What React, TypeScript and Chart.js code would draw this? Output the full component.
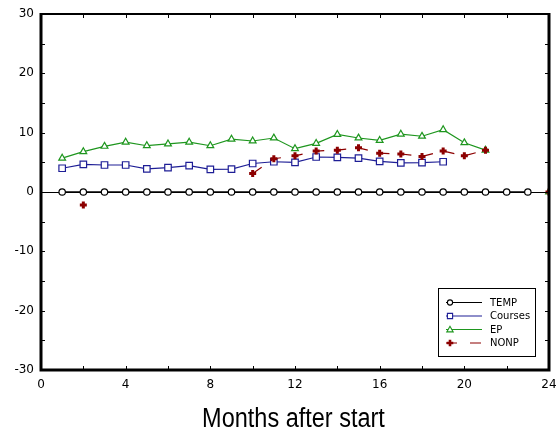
import { useEffect, useRef } from "react";
import { Chart, registerables } from "chart.js";

Chart.register(...registerables);

const months = [1, 2, 3, 4, 5, 6, 7, 8, 9, 10, 11, 12, 13, 14, 15, 16, 17, 18, 19, 20, 21, 22, 23, 24];
const tempValues = [0, 0, 0, 0, 0, 0, 0, 0, 0, 0, 0, 0, 0, 0, 0, 0, 0, 0, 0, 0, 0, 0, 0, null];
const coursesValues = [4.0, 4.65, 4.55, 4.55, 3.9, 4.1, 4.45, 3.8, 3.85, 4.8, 5.1, 5.0, 5.9, 5.85, 5.7, 5.15, 4.9, 4.95, 5.1, null, null, null, null, null];
const epValues = [5.7, 6.8, 7.7, 8.4, 7.8, 8.1, 8.4, 7.8, 8.9, 8.6, 9.1, 7.3, 8.2, 9.7, 9.1, 8.7, 9.75, 9.4, 10.5, 8.3, 7.05, null, null, 0];
const nonpValues = [null, -2.2, null, null, null, null, null, null, null, 3.1, 5.6, 6.1, 6.9, 7.05, 7.45, 6.55, 6.4, 6.0, 6.9, 6.1, 7.05, null, null, 0];
const seriesNames = ["TEMP", "Courses", "EP", "NONP"];
const xTitle = "Months after start";
const yMin = -30;
const yMax = 30;
const xMin = 0;
const xMax = 24;

const pts = (vals: (number | null)[]) => months.map((m, i) => ({ x: m, y: vals[i] }));

function drawMarker(ctx: CanvasRenderingContext2D, style: string, x: number, y: number, color: string) {
  ctx.save();
  ctx.strokeStyle = color;
  ctx.fillStyle = "#fff";
  ctx.lineWidth = 1.1;
  ctx.beginPath();
  if (style === "circle") {
    ctx.arc(x, y, 2.6, 0, Math.PI * 2);
    ctx.fill();
    ctx.stroke();
  } else if (style === "rect") {
    ctx.rect(x - 2.6, y - 2.6, 5.2, 5.2);
    ctx.fill();
    ctx.stroke();
  } else if (style === "triangle") {
    ctx.moveTo(x, y - 3.2);
    ctx.lineTo(x - 3.2, y + 2.4);
    ctx.lineTo(x + 3.2, y + 2.4);
    ctx.closePath();
    ctx.fill();
    ctx.stroke();
  } else {
    ctx.lineWidth = 2.6;
    ctx.moveTo(x - 3.3, y);
    ctx.lineTo(x + 3.3, y);
    ctx.moveTo(x, y - 3.3);
    ctx.lineTo(x, y + 3.3);
    ctx.stroke();
  }
  ctx.restore();
}

const framePlugin = {
  id: "frame",
  beforeDatasetsDraw(chart: any) {
    const { ctx, chartArea, scales } = chart;
    const y0 = scales.y.getPixelForValue(0);
    ctx.save();
    ctx.strokeStyle = "#000";
    ctx.lineWidth = 1;
    ctx.beginPath();
    ctx.moveTo(chartArea.left, Math.round(y0) + 0.5);
    ctx.lineTo(chartArea.right, Math.round(y0) + 0.5);
    ctx.stroke();
    ctx.restore();
  },
  afterDatasetsDraw(chart: any) {
    const { ctx, chartArea, scales } = chart;
    const { left, right, top, bottom } = chartArea;
    ctx.save();
    ctx.strokeStyle = "#000";
    ctx.lineWidth = 1;
    ctx.beginPath();
    for (let v = yMin + 5; v < yMax; v += 5) {
      const y = Math.round(scales.y.getPixelForValue(v)) + 0.5;
      ctx.moveTo(left, y);
      ctx.lineTo(left + 4, y);
      ctx.moveTo(right, y);
      ctx.lineTo(right - 4, y);
    }
    for (let v = xMin + 2; v < xMax; v += 2) {
      const x = Math.round(scales.x.getPixelForValue(v)) + 0.5;
      ctx.moveTo(x, top);
      ctx.lineTo(x, top + 4);
      ctx.moveTo(x, bottom);
      ctx.lineTo(x, bottom - 4);
    }
    ctx.stroke();
    ctx.lineWidth = 2;
    ctx.beginPath();
    ctx.moveTo(left, top);
    ctx.lineTo(right, top);
    ctx.stroke();
    ctx.lineWidth = 3;
    ctx.beginPath();
    ctx.moveTo(left, top - 1);
    ctx.lineTo(left, bottom);
    ctx.lineTo(right, bottom);
    ctx.lineTo(right, top - 1);
    ctx.stroke();
    ctx.restore();
  },
  afterDraw(chart: any) {
    const { ctx, chartArea } = chart;
    ctx.save();
    ctx.fillStyle = "#000";
    ctx.font = '27px "Liberation Sans", Arial, sans-serif';
    ctx.textAlign = "center";
    ctx.textBaseline = "alphabetic";
    const cx = (chartArea.left + chartArea.right) / 2 - 1.5;
    ctx.translate(cx, 426.5);
    ctx.scale(0.87, 1);
    ctx.fillText(xTitle, 0, 0);
    ctx.restore();

    const bx = 438.5, by = 288.5, bw = 97, bh = 68;
    ctx.save();
    ctx.fillStyle = "#fff";
    ctx.fillRect(bx, by, bw, bh);
    ctx.strokeStyle = "#000";
    ctx.lineWidth = 1;
    ctx.strokeRect(bx, by, bw, bh);
    const rows = [302.5, 316, 329.5, 343];
    chart.data.datasets.forEach((ds: any, i: number) => {
      const y = rows[i];
      ctx.save();
      ctx.strokeStyle = ds.borderColor;
      ctx.lineWidth = 1.2;
      if (ds.borderDash && ds.borderDash.length) ctx.setLineDash([11, 13]);
      ctx.beginPath();
      ctx.moveTo(446, y);
      ctx.lineTo(482, y);
      ctx.stroke();
      ctx.restore();
      drawMarker(ctx, ds.pointStyle, 450, y, ds.pointBorderColor);
      ctx.save();
      ctx.fillStyle = "#000";
      ctx.font = '10px "DejaVu Sans", sans-serif';
      ctx.textAlign = "left";
      ctx.textBaseline = "middle";
      ctx.fillText(seriesNames[i], 490, y + 0.5);
      ctx.restore();
    });
    ctx.restore();
  },
};

export default function App() {
  const ref = useRef<HTMLCanvasElement | null>(null);
  useEffect(() => {
    document.body.style.margin = "0";
    const canvas = ref.current!;
    const chart = new Chart(canvas, {
      type: "line",
      data: {
        datasets: [
          {
            label: seriesNames[0],
            data: pts(tempValues),
            borderColor: "#000",
            borderWidth: 1.5,
            pointStyle: "circle",
            pointRadius: 3.2,
            pointBorderColor: "#000",
            pointBackgroundColor: "#fff",
            pointBorderWidth: 1.2,
            spanGaps: false,
            order: 4,
          },
          {
            label: seriesNames[1],
            data: pts(coursesValues),
            borderColor: "#1e1e96",
            borderWidth: 1.2,
            pointStyle: "rect",
            pointRadius: 4.6,
            pointBorderColor: "#1e1e96",
            pointBackgroundColor: "#fff",
            pointBorderWidth: 1.2,
            spanGaps: false,
            order: 3,
          },
          {
            label: seriesNames[2],
            data: pts(epValues),
            borderColor: "#1e961e",
            borderWidth: 1.2,
            pointStyle: "triangle",
            pointRadius: 3.9,
            pointBorderColor: "#1e961e",
            pointBackgroundColor: "#fff",
            pointBorderWidth: 1.2,
            spanGaps: false,
            order: 2,
          },
          {
            label: seriesNames[3],
            data: pts(nonpValues),
            borderColor: "#8c0000",
            borderWidth: 1.2,
            borderDash: [11, 11],
            pointStyle: "cross",
            pointRadius: 3.5,
            pointBorderColor: "#8c0000",
            pointBackgroundColor: "#8c0000",
            pointBorderWidth: 3,
            spanGaps: false,
            order: 1,
          },
        ],
      },
      options: {
        animation: false,
        responsive: false,
        maintainAspectRatio: false,
        layout: { padding: { left: 0, right: 11, top: 14, bottom: 0 } },
        plugins: {
          legend: { display: false },
          tooltip: { enabled: false },
        },
        scales: {
          x: {
            type: "linear",
            min: xMin,
            max: xMax,
            grid: { display: false, drawTicks: false },
            border: { display: false },
            ticks: {
              stepSize: 4,
              color: "#000",
              font: { family: '"DejaVu Sans", sans-serif', size: 12 },
              padding: 8,
              maxRotation: 0,
            },
            afterFit: (s: any) => {
              s.height = 62;
              s.paddingLeft = 0;
              s.paddingRight = 0;
            },
          },
          y: {
            type: "linear",
            min: yMin,
            max: yMax,
            grid: { display: false, drawTicks: false },
            border: { display: false },
            ticks: {
              stepSize: 10,
              color: "#000",
              font: { family: '"DejaVu Sans", sans-serif', size: 12 },
              padding: 7,
              callback: (v: any) => String(v),
            },
            afterFit: (s: any) => {
              s.width = 41;
              s.paddingTop = 0;
              s.paddingBottom = 0;
            },
          },
        },
      },
      plugins: [framePlugin],
    });
    return () => chart.destroy();
  }, []);
  return <canvas ref={ref} width={560} height={432} style={{ display: "block" }} />;
}
